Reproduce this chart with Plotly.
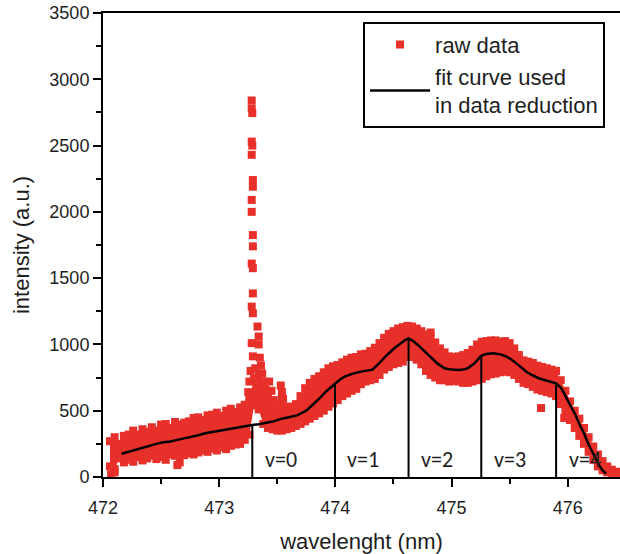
import plotly.graph_objects as go

# ---------------- data ----------------
WL_START = 472.06      # first wavelength of the sampled raw-data band (nm)
WL_STEP = 0.04         # wavelength step of the band samples (nm)

# upper and lower edge of the raw-data scatter band (a.u.)
raw_upper = [270, 300, 250, 310, 320, 350, 320, 360, 340, 375,
             350, 395, 400, 370, 415, 395, 410, 420, 445, 450,
             430, 465, 470, 485, 460, 500, 515, 490, 525, 545,
             590, 740, 770, 690, 610, 550, 530, 610, 530, 530,
             550, 610, 670, 710, 740, 760, 790, 820, 835, 845,
             865, 885, 900, 905, 925, 930, 950, 975, 1010, 1050,
             1080, 1100, 1120, 1130, 1140, 1135, 1120, 1100, 1075, 1060,
             1015, 970, 940, 910, 905, 910, 920, 935, 960, 1000,
             1020, 1025, 1030, 1030, 1020, 1025, 1010, 970, 920, 880,
             870, 860, 840, 830, 820, 810, 800, 730, 650, 570,
             500, 440, 370, 300, 230, 170, 120, 80, 55, 40]
raw_lower = [80, 60, 140, 110, 130, 115, 150, 125, 140, 160,
             135, 150, 130, 170, 160, 110, 165, 180, 170, 185,
             200, 190, 215, 200, 225, 210, 235, 245, 250, 280,
             320, 540, 510, 400, 370, 360, 350, 350, 360, 370,
             385, 400, 420, 440, 460, 480, 500, 530, 555, 580,
             610, 630, 650, 665, 700, 720, 730, 740, 770, 810,
             830, 850, 860, 870, 905, 905, 885, 850, 800, 770,
             750, 730, 730, 720, 725, 720, 710, 710, 720, 730,
             740, 760, 775, 780, 790, 795, 790, 770, 740, 710,
             700, 680, 660, 650, 640, 630, 610, 550, 490, 430,
             370, 310, 250, 190, 130, 80, 50, 35, 30, 25]

# isolated raw points: the narrow line at 473.3 nm and scattered outliers
peak_wl = [473.28, 473.28, 473.285, 473.28, 473.285, 473.28, 473.29, 473.29,
           473.28, 473.28, 473.29, 473.29, 473.28, 473.29, 473.29, 473.28,
           473.29, 473.33, 473.34, 473.28, 473.34, 473.29, 473.35, 473.36,
           473.31, 473.37, 473.38, 473.40, 473.27, 473.26, 473.25, 473.26,
           473.43, 473.45, 473.47, 473.48,
           473.53, 473.54, 473.55, 473.53,
           472.07, 472.10, 472.64, 474.82, 475.77, 475.97]
peak_int = [2840, 2780, 2745, 2530, 2500, 2430, 2240, 2190,
            2090, 2000, 1825, 1740, 1610, 1575, 1385, 1285,
            1235, 1135, 1060, 1010, 1000, 910, 900, 840,
            820, 780, 720, 660, 800, 720, 640, 560,
            720, 650, 580, 520,
            690, 640, 590, 550,
            20, 35, 90, 1090, 520, 445]

# fit curve used in data reduction
fit_wl = [472.16, 472.22, 472.28, 472.34, 472.40, 472.46, 472.52, 472.58,
          472.64, 472.70, 472.76, 472.82, 472.88, 472.94, 473.00, 473.06,
          473.12, 473.18, 473.24, 473.285, 473.34, 473.40, 473.46, 473.54,
          473.60, 473.67, 473.75, 473.80, 473.86, 473.92, 473.997, 474.04,
          474.08, 474.15, 474.22, 474.28, 474.32, 474.38, 474.43, 474.50,
          474.56, 474.60, 474.63, 474.67, 474.71, 474.77, 474.83, 474.88,
          474.94, 475.00, 475.06, 475.10, 475.14, 475.20, 475.256, 475.30,
          475.36, 475.42, 475.46, 475.50, 475.54, 475.60, 475.65, 475.69,
          475.75, 475.80, 475.85, 475.90, 475.94, 475.97, 476.01, 476.06,
          476.10, 476.14, 476.18, 476.23, 476.27, 476.30, 476.33]
fit_int = [175, 190, 205, 225, 235, 250, 262, 268,
           280, 290, 300, 315, 330, 340, 350, 358,
           365, 375, 385, 392, 398, 408, 418, 440,
           450, 465, 500, 540, 590, 645, 705, 735,
           757, 780, 795, 803, 810, 860, 908, 965,
           1010, 1033, 1046, 1025, 996, 945, 895, 855,
           820, 810, 807, 810, 820, 860, 915, 928,
           933, 925, 913, 895, 870, 825, 790, 770,
           745, 732, 720, 707, 675, 631, 560, 480,
           400, 330, 245, 155, 90, 50, 25]

# vibrational band boundaries
band_edges = [473.285, 473.997, 474.63, 475.256, 475.90]
band_tops = [392, 705, 1046, 915, 707]
band_labels = ["v=0", "v=1", "v=2", "v=3", "v=4"]

x_ticks = [472, 473, 474, 475, 476]
y_ticks = [0, 500, 1000, 1500, 2000, 2500, 3000, 3500]

# ---------------- styling ----------------
RED = "#e8302a"
TXT = "#1e1e1e"
TICKFONT = dict(family="Liberation Sans, Arial", size=18, color=TXT)
FONT = dict(family="Liberation Sans, Arial, sans-serif", size=22, color=TXT)

fig = go.Figure()

# solid core of the scatter band
fig.add_trace(go.Scatter(y=raw_lower, x0=WL_START, dx=WL_STEP, mode="lines",
                         line=dict(width=0, color=RED), showlegend=False,
                         hoverinfo="skip"))
fig.add_trace(go.Scatter(y=raw_upper, x0=WL_START, dx=WL_STEP, mode="lines",
                         line=dict(width=0, color=RED), fill="tonexty",
                         fillcolor=RED, showlegend=False, hoverinfo="skip"))

marker = dict(symbol="square", size=8, color=RED, line=dict(width=0))
fig.add_trace(go.Scatter(y=raw_upper, x0=WL_START, dx=WL_STEP, mode="markers",
                         marker=marker, name="raw data", legendgroup="raw"))
fig.add_trace(go.Scatter(y=raw_lower, x0=WL_START, dx=WL_STEP, mode="markers",
                         marker=marker, showlegend=False, legendgroup="raw"))
fig.add_trace(go.Scatter(x=peak_wl, y=peak_int, mode="markers",
                         marker=marker, showlegend=False, legendgroup="raw"))

fig.add_trace(go.Scatter(x=fit_wl, y=fit_int, mode="lines",
                         line=dict(color="black", width=2.5),
                         name="fit curve used<br>in data reduction"))

# band boundary lines
vx, vy = [], []
for e, t in zip(band_edges, band_tops):
    vx += [e, e, None]
    vy += [0, t, None]
fig.add_trace(go.Scatter(x=vx, y=vy, mode="lines",
                         line=dict(color="black", width=2),
                         showlegend=False, hoverinfo="skip"))

for e, lab in zip(band_edges, band_labels):
    fig.add_annotation(x=e + 0.09, y=135, text=lab, showarrow=False,
                       xanchor="left", yanchor="middle",
                       font=dict(family="Carlito, Lato, sans-serif", size=22, color=TXT))

fig.update_layout(
    width=620, height=554,
    margin=dict(l=103, r=0, t=13, b=77),
    paper_bgcolor="white", plot_bgcolor="white",
    font=FONT,
    showlegend=True,
    legend=dict(x=0.503, y=0.981, xanchor="left", yanchor="top",
                bordercolor="black", borderwidth=2, bgcolor="white",
                font=dict(family="Liberation Sans, Arial", size=22, color=TXT),
                itemwidth=60, tracegroupgap=0),
)
fig.update_xaxes(range=[472, 476.45], tickvals=x_ticks, ticktext=[str(v) for v in x_ticks],
                 automargin=False,
                 showgrid=False, zeroline=False,
                 showline=True, linecolor="black", linewidth=2, mirror=True,
                 ticks="outside", ticklen=8, tickwidth=2, tickcolor="black",
                 tickfont=TICKFONT, ticklabelstandoff=5,
                 minor=dict(dtick=0.5, tick0=472, ticks="outside", ticklen=5,
                            tickwidth=2, tickcolor="black", showgrid=False),
                 title=dict(text="wavelenght (nm)", font=FONT, standoff=26))
fig.update_yaxes(range=[0, 3500], tickvals=y_ticks, ticktext=[str(v) for v in y_ticks],
                 automargin=False,
                 showgrid=False, zeroline=False,
                 showline=True, linecolor="black", linewidth=2,
                 ticks="outside", ticklen=8, tickwidth=2, tickcolor="black",
                 tickfont=TICKFONT,
                 minor=dict(dtick=250, tick0=0, ticks="outside", ticklen=5,
                            tickwidth=2, tickcolor="black", showgrid=False),
                 title=dict(text="intensity (a.u.)", font=FONT, standoff=14))

fig.write_html("out.html")
